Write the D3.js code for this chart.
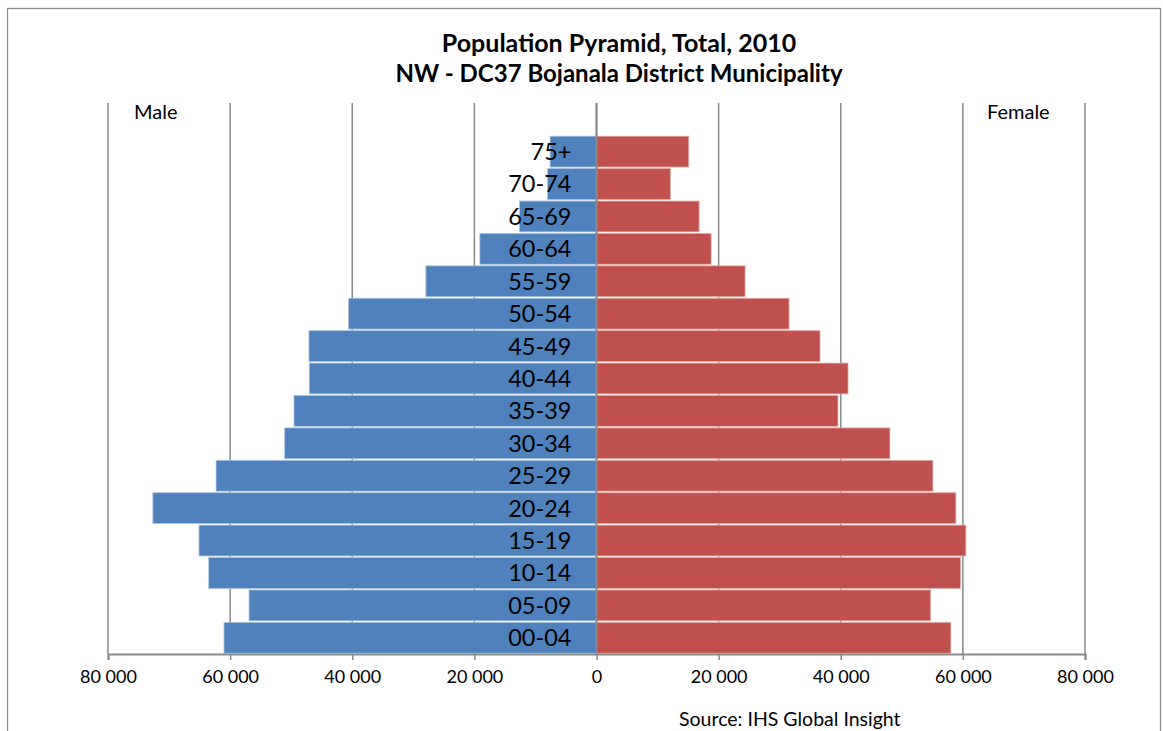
<!DOCTYPE html>
<html>
<head>
<meta charset="utf-8">
<script src="https://cdn.jsdelivr.net/npm/d3@7"></script>
<style>
  body { margin: 0; background: #fff; }
  svg { display: block; font-family: Lato, "Open Sans", sans-serif; }
</style>
</head>
<body>
<svg width="1163" height="731"></svg>
<script>
/* chart data */
var ageGroups = ["00-04", "05-09", "10-14", "15-19", "20-24", "25-29", "30-34", "35-39",
                 "40-44", "45-49", "50-54", "55-59", "60-64", "65-69", "70-74", "75+"];
var male   = [61000, 56900, 63500, 65100, 72650, 62300, 51060, 49540,
              47030, 47090, 40590, 27940, 19100, 12600, 8000, 7600];
var female = [58030, 54700, 59600, 60490, 58850, 55090, 48050, 39540,
              41190, 36600, 31530, 24330, 18770, 16800, 12100, 15100];
var xTicks = [-80000, -60000, -40000, -20000, 0, 20000, 40000, 60000, 80000];

var titleLines = ["Population Pyramid, Total, 2010", "NW - DC37 Bojanala District Municipality"];

var svg = d3.select("svg"),
    plot = {left: 108, right: 1085, top: 103, bottom: 654};

// outer frame
svg.append("rect")
    .attr("x", 7.5).attr("y", 8.5)
    .attr("width", 1153).attr("height", 740)
    .attr("fill", "none")
    .attr("stroke", "#8c8c8c")
    .attr("stroke-width", 1.3);

var x = d3.scaleLinear().domain([-80000, 80000]).range([plot.left, plot.right]);

// one empty slot is left above the oldest group
var step = (plot.bottom - plot.top) / (ageGroups.length + 1);
var y = d3.scaleBand()
    .domain(ageGroups)
    .range([plot.bottom, plot.top + step])
    .paddingInner(0.05)
    .paddingOuter(0.025);

var fmt = d3.formatLocale({decimal: ".", thousands: " ", grouping: [3], currency: ["", ""]}).format(",");

/* grid lines */
svg.append("g").selectAll("line")
    .data(xTicks)
    .enter().append("line")
    .attr("x1", function(d) { return x(d); })
    .attr("x2", function(d) { return x(d); })
    .attr("y1", plot.top)
    .attr("y2", plot.bottom)
    .attr("stroke", "#8a8a8a")
    .attr("stroke-width", 1.5);

var rows = ageGroups.map(function(a, i) {
    return {age: a, male: male[i], female: female[i]};
});

/* bars */
svg.append("g").selectAll("rect")
    .data(rows)
    .enter().append("rect")
    .attr("x", function(d) { return x(-d.male); })
    .attr("y", function(d) { return y(d.age); })
    .attr("width", function(d) { return x(0) - x(-d.male); })
    .attr("height", y.bandwidth())
    .attr("fill", "#4f81bd")
    .attr("stroke", "#a9c0de")
    .attr("stroke-width", 0.8);

svg.append("g").selectAll("rect")
    .data(rows)
    .enter().append("rect")
    .attr("x", x(0))
    .attr("y", function(d) { return y(d.age); })
    .attr("width", function(d) { return x(d.female) - x(0); })
    .attr("height", y.bandwidth())
    .attr("fill", "#c0504d")
    .attr("stroke", "#e0a9a7")
    .attr("stroke-width", 0.8);

/* x axis */
var xAxis = svg.append("g")
    .attr("transform", "translate(0," + plot.bottom + ")")
    .call(d3.axisBottom(x).tickValues(xTicks).tickSize(6).tickPadding(10)
        .tickFormat(function(d) { return fmt(Math.abs(d)); }));
xAxis.select(".domain").attr("stroke", "#8a8a8a").attr("stroke-width", 2.2);
xAxis.selectAll(".tick line").attr("stroke", "#8a8a8a").attr("stroke-width", 1.5);
xAxis.selectAll("text")
    .attr("fill", "#000")
    .style("font-size", "18px")
    .style("font-family", "Lato, sans-serif");

// vertical category axis at zero
svg.append("line")
    .attr("x1", x(0)).attr("x2", x(0))
    .attr("y1", plot.top).attr("y2", plot.bottom)
    .attr("stroke", "#8a8a8a")
    .attr("stroke-width", 2);

/* category labels */
svg.append("g").selectAll("text")
    .data(ageGroups)
    .enter().append("text")
    .attr("x", x(0) - 25)
    .attr("y", function(d) { return y(d) + y.bandwidth() / 2; })
    .attr("dy", "0.36em")
    .attr("text-anchor", "end")
    .style("font-size", "23.5px")
    .text(function(d) { return d; });

/* titles and notes */
svg.append("g").selectAll("text")
    .data(titleLines)
    .enter().append("text")
    .attr("x", 619)
    .attr("y", function(d, i) { return 52 + i * 30; })
    .attr("text-anchor", "middle")
    .style("font-size", function(d, i) { return i === 0 ? "25px" : "24px"; })
    .style("font-weight", "bold")
    .text(function(d) { return d; });

svg.append("text")
    .attr("x", 134).attr("y", 119)
    .style("font-size", "20px")
    .text("Male");

svg.append("text")
    .attr("x", 987).attr("y", 119)
    .style("font-size", "20px")
    .text("Female");

svg.append("text")
    .attr("x", 679).attr("y", 726)
    .style("font-size", "19.5px")
    .text("Source: IHS Global Insight");
</script>
</body>
</html>
